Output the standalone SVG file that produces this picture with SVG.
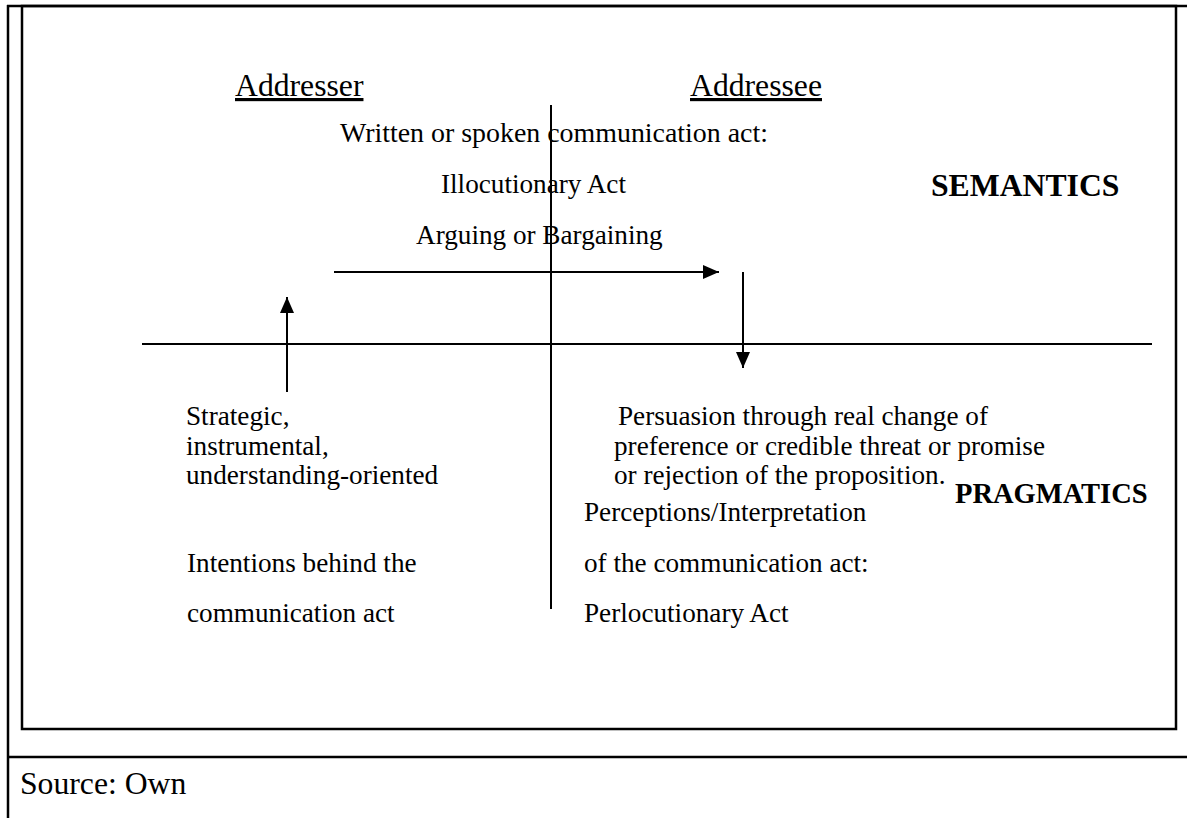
<svg xmlns="http://www.w3.org/2000/svg" width="1187" height="818" viewBox="0 0 1187 818">
  <style>
    .frame { stroke: #000; stroke-width: 2.5; fill: none; }
    .axis { stroke: #000; stroke-width: 2; fill: none; }
    .arrow { stroke: #000; stroke-width: 2; fill: none; marker-end: url(#head); }
    text { font-family: "Liberation Serif", "Times New Roman", serif; fill: #000; }
    .body { font-size: 27.2px; }
    .head { font-size: 31.7px; text-decoration: underline; }
    .bold { font-size: 31.7px; font-weight: bold; }
    .src { font-size: 31.7px; }
  </style>
  <defs>
    <marker id="head" viewBox="0 0 16 14" refX="16" refY="7" markerWidth="16" markerHeight="14" markerUnits="userSpaceOnUse" orient="auto">
      <path d="M0,0 L16,7 L0,14 Z" fill="#000"/>
    </marker>
  </defs>

  <!-- page frame -->
  <g id="frame">
    <line class="frame" x1="7" y1="6" x2="1187" y2="6"/>
    <line class="frame" x1="8" y1="5" x2="8" y2="818"/>
    <rect class="frame" x="22" y="6" width="1154" height="723"/>
    <line class="frame" x1="7" y1="757" x2="1187" y2="757"/>
  </g>

  <!-- quadrant axes and flow arrows -->
  <g id="connectors">
    <line class="axis" x1="142" y1="344" x2="1152" y2="344"/>
    <line class="axis" x1="551" y1="105" x2="551" y2="609"/>
    <line class="arrow" x1="334" y1="272" x2="719" y2="272"/>
    <line class="arrow" x1="743" y1="272" x2="743" y2="368"/>
    <line class="arrow" x1="287" y1="392" x2="287" y2="297"/>
  </g>

  <g id="addresser"><text class="head" x="235" y="96">Addresser</text></g>
  <g id="addressee"><text class="head" x="690" y="96">Addressee</text></g>

  <g id="speech-act">
    <text class="body" x="340" y="142" style="font-size:27.9px">Written or spoken communication act:</text>
    <text class="body" x="441" y="193">Illocutionary Act</text>
    <text class="body" x="416" y="244">Arguing or Bargaining</text>
  </g>

  <g id="semantics"><text class="bold" x="931" y="196">SEMANTICS</text></g>
  <g id="pragmatics"><text class="bold" x="955" y="503" style="font-size:28.5px">PRAGMATICS</text></g>

  <g id="intentions">
    <text class="body" x="186" y="425">Strategic,</text>
    <text class="body" x="186" y="454.5">instrumental,</text>
    <text class="body" x="186" y="484">understanding-oriented</text>
    <text class="body" x="187" y="572">Intentions behind the</text>
    <text class="body" x="187" y="622">communication act</text>
  </g>

  <g id="persuasion">
    <text class="body" x="618" y="425">Persuasion through real change of</text>
    <text class="body" x="614" y="454.5">preference or credible threat or promise</text>
    <text class="body" x="614" y="484">or rejection of the proposition.</text>
  </g>

  <g id="perlocution">
    <text class="body" x="584" y="521">Perceptions/Interpretation</text>
    <text class="body" x="584" y="572">of the communication act:</text>
    <text class="body" x="584" y="622">Perlocutionary Act</text>
  </g>

  <g id="source"><text class="src" x="20" y="794">Source: Own</text></g>
</svg>
